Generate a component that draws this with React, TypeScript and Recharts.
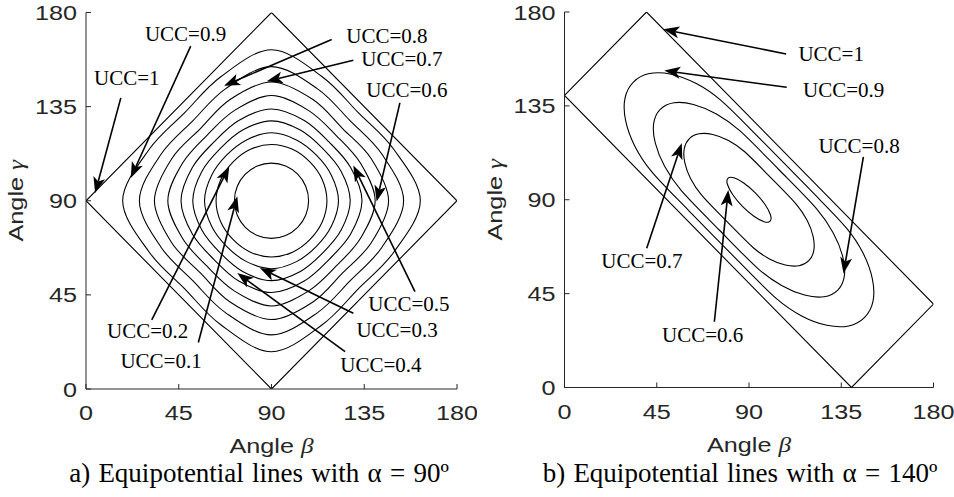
import React from "react";
import { ScatterChart, Scatter, XAxis, YAxis, ReferenceLine, ReferenceDot } from "recharts";

type P = [number, number];

const ticks = [0, 45, 90, 135, 180];

// ---- a) alpha = 90 ----
const edge90: P[] = [[90, 0], [180, 90], [90, 180], [0, 90]];

const ucc01a: P[] = [[108, 90], [106.6, 96.9], [102.7, 102.7], [96.9, 106.6], [90, 108], [83.1, 106.6], [77.3, 102.7], [73.4, 96.9], [72, 90], [73.4, 83.1], [77.3, 77.3], [83.1, 73.4], [90, 72], [96.9, 73.4], [102.7, 77.3], [106.6, 83.1]];
const ucc02a: P[] = [[116.9, 90], [114.6, 100.2], [108.6, 108.6], [100.2, 114.6], [90, 116.9], [79.8, 114.6], [71.4, 108.6], [65.4, 100.2], [63.1, 90], [65.4, 79.8], [71.4, 71.4], [79.8, 65.4], [90, 63.1], [100.2, 65.4], [108.6, 71.4], [114.6, 79.8]];
const ucc03a: P[] = [[122.5, 90], [119.1, 102.1], [111.8, 111.8], [102.1, 119.1], [90, 122.5], [77.9, 119.1], [68.2, 111.8], [60.9, 102.1], [57.5, 90], [60.9, 77.9], [68.2, 68.2], [77.9, 60.9], [90, 57.5], [102.1, 60.9], [111.8, 68.2], [119.1, 77.9]];
const ucc04a: P[] = [[128.2, 90], [123.8, 104], [114.9, 114.9], [104, 123.8], [90, 128.2], [76, 123.8], [65.1, 114.9], [56.2, 104], [51.8, 90], [56.2, 76], [65.1, 65.1], [76, 56.2], [90, 51.8], [104, 56.2], [114.9, 65.1], [123.8, 76]];
const ucc05a: P[] = [[133.9, 90], [128.4, 105.9], [118, 118], [105.9, 128.4], [90, 133.9], [74.1, 128.4], [62, 118], [51.6, 105.9], [46.1, 90], [51.6, 74.1], [62, 62], [74.1, 51.6], [90, 46.1], [105.9, 51.6], [118, 62], [128.4, 74.1]];
const ucc06a: P[] = [[140.3, 90], [133.2, 107.9], [121.3, 121.3], [107.9, 133.2], [90, 140.3], [72.1, 133.2], [58.7, 121.3], [46.8, 107.9], [39.7, 90], [46.8, 72.1], [58.7, 58.7], [72.1, 46.8], [90, 39.7], [107.9, 46.8], [121.3, 58.7], [133.2, 72.1]];
const ucc07a: P[] = [[146.8, 90], [138.4, 110.1], [124.5, 124.5], [110.1, 138.4], [90, 146.8], [69.9, 138.4], [55.5, 124.5], [41.6, 110.1], [33.2, 90], [41.6, 69.9], [55.5, 55.5], [69.9, 41.6], [90, 33.2], [110.1, 41.6], [124.5, 55.5], [138.4, 69.9]];
const ucc08a: P[] = [[154.1, 90], [143.6, 112.2], [128.2, 128.2], [112.2, 143.6], [90, 154.1], [67.8, 143.6], [51.8, 128.2], [36.4, 112.2], [25.9, 90], [36.4, 67.8], [51.8, 51.8], [67.8, 36.4], [90, 25.9], [112.2, 36.4], [128.2, 51.8], [143.6, 67.8]];
const ucc09a: P[] = [[162.2, 90], [149.3, 114.6], [132.1, 132.1], [114.6, 149.3], [90, 162.2], [65.4, 149.3], [47.9, 132.1], [30.7, 114.6], [17.8, 90], [30.7, 65.4], [47.9, 47.9], [65.4, 30.7], [90, 17.8], [114.6, 30.7], [132.1, 47.9], [149.3, 65.4]];

const textA = ["UCC=1", "UCC=0.9", "UCC=0.8", "UCC=0.7", "UCC=0.6", "UCC=0.5", "UCC=0.4", "UCC=0.3", "UCC=0.2", "UCC=0.1"];
const textPosA: P[] = [[19.8, 148.9], [48.3, 169.8], [146, 169], [153.3, 157.8], [155.7, 143.1], [156.7, 40.7], [143.1, 11.5], [150.9, 28.2], [29.9, 27.8], [36.4, 13.4]];
const tailA: P[] = [[16.9, 139.2], [50.8, 163.9], [119.2, 167.1], [129.7, 157.2], [152.3, 136.8], [159.6, 46.6], [125.7, 17.9], [129.7, 36.2], [31.9, 33], [54.5, 22.2]];
const headA: P[] = [[4.4, 93.7], [21.7, 100.9], [67, 145], [87.7, 147.1], [141, 89.7], [129.7, 106.9], [73.4, 55.4], [84.4, 57.8], [69.5, 106.4], [73.4, 92.1]];

// ---- b) alpha = 140 ----
const edge140: P[] = [[0, 140], [40, 180], [180, 40], [140, 0]];

const ucc06b: P[] = [[100.3, 79.7], [100.5, 82.7], [97.9, 87.6], [93.2, 93.2], [87.6, 97.9], [82.7, 100.5], [79.7, 100.3], [79.5, 97.3], [82.1, 92.4], [86.8, 86.8], [92.4, 82.1], [97.3, 79.5]];
const ucc07b: P[] = [[60.8, 119.2], [65.6, 121.6], [72.3, 121.3], [80, 118.4], [87.9, 113], [100.6, 100.6], [113, 87.9], [118.4, 80], [121.3, 72.3], [121.6, 65.6], [119.2, 60.8], [114.4, 58.4], [107.7, 58.7], [100, 61.6], [92.1, 67], [79.4, 79.4], [67, 92.1], [61.6, 100], [58.7, 107.7], [58.4, 114.4]];
const ucc08b: P[] = [[46.7, 133.3], [53.4, 136.5], [62.9, 135.7], [74.1, 131.1], [85.5, 123.1], [104.5, 104.5], [123.1, 85.5], [131.1, 74.1], [135.7, 62.9], [136.5, 53.4], [133.3, 46.7], [126.6, 43.5], [117.1, 44.3], [105.9, 48.9], [94.5, 56.9], [75.5, 75.5], [56.9, 94.5], [48.9, 105.9], [44.3, 117.1], [43.5, 126.6]];
const ucc09b: P[] = [[33.6, 146.4], [41.4, 150.5], [52, 150.2], [64.3, 145.7], [76.6, 137.4], [95.3, 119.3], [119.3, 95.3], [137.4, 76.6], [145.7, 64.3], [150.2, 52], [150.5, 41.4], [146.4, 33.6], [138.6, 29.5], [128, 29.8], [115.7, 34.3], [103.4, 42.6], [84.7, 60.7], [60.7, 84.7], [42.6, 103.4], [34.3, 115.7], [29.8, 128], [29.5, 138.6]];

const textB = ["UCC=1", "UCC=0.9", "UCC=0.8", "UCC=0.7", "UCC=0.6"];
const textPosB: P[] = [[130.1, 160.1], [136.2, 142.6], [143.7, 116], [37.8, 60.6], [67.4, 25.4]];
const tailB: P[] = [[108.1, 159.9], [108.4, 143.9], [145.8, 110.6], [40.1, 66.7], [73.1, 31.5]];
const headB: P[] = [[48.2, 171.7], [48.7, 151.9], [136.1, 54.7], [57.2, 117.1], [79.9, 94.7]];

const AX = "#262626";
const SANS = "'Liberation Sans', Arial, sans-serif";
const SERIF = "'Liberation Serif', 'Times New Roman', serif";
const STRETCH = 1.2; // the axis text in the figure is wider than plain Arial

// closed Catmull-Rom curve, used as a d3 curve factory
function closedSpline(context: any) {
  let pts: number[][] = [];
  return {
    areaStart() {},
    areaEnd() {},
    lineStart() {
      pts = [];
    },
    point(x: number, y: number) {
      pts.push([+x, +y]);
    },
    lineEnd() {
      const n = pts.length;
      if (n < 3) return;
      context.moveTo(pts[0][0], pts[0][1]);
      for (let i = 0; i < n; i++) {
        const p0 = pts[(i + n - 1) % n];
        const p1 = pts[i];
        const p2 = pts[(i + 1) % n];
        const p3 = pts[(i + 2) % n];
        context.bezierCurveTo(
          p1[0] + (p2[0] - p0[0]) / 6,
          p1[1] + (p2[1] - p0[1]) / 6,
          p2[0] - (p3[0] - p1[0]) / 6,
          p2[1] - (p3[1] - p1[1]) / 6,
          p2[0],
          p2[1]
        );
      }
      context.closePath();
    },
  };
}

const toRows = (pts: P[]) => pts.map(([b, g]) => ({ b, g }));
const NoDot = () => null;

const Arrow = (p: any) => {
  const { x1, y1, x2, y2 } = p;
  const dx = x2 - x1;
  const dy = y2 - y1;
  const len = Math.hypot(dx, dy) || 1;
  const ux = dx / len;
  const uy = dy / len;
  const L = 16;
  const W = 6;
  const bx = x2 - ux * L;
  const by = y2 - uy * L;
  const nx = x2 - ux * (L - 4);
  const ny = y2 - uy * (L - 4);
  return (
    <g>
      <line x1={x1} y1={y1} x2={nx} y2={ny} stroke="#000" strokeWidth={1.6} />
      <polygon
        points={`${x2},${y2} ${bx - uy * W},${by + ux * W} ${nx},${ny} ${bx + uy * W},${by - ux * W}`}
        fill="#000"
      />
    </g>
  );
};

// sans text, stretched horizontally
const SText = ({ x, y, anchor, rotate = 0, children }: any) => (
  <text
    transform={`translate(${x} ${y}) rotate(${rotate}) scale(${STRETCH} 1)`}
    textAnchor={anchor}
    fontFamily={SANS}
    fontSize={21}
    fill={AX}
  >
    {children}
  </text>
);

const BottomTick = (p: any) => (
  <g>
    <line x1={p.x} y1={p.y} x2={p.x} y2={p.y - 5} stroke={AX} />
    <SText x={p.x} y={p.y + 31} anchor="middle">
      {p.payload.value}
    </SText>
  </g>
);
const LeftTick = (p: any) => (
  <g>
    <line x1={p.x} y1={p.y} x2={p.x + 5} y2={p.y} stroke={AX} />
    <SText x={p.x - 9} y={p.y + 7.5} anchor="end">
      {p.payload.value}
    </SText>
  </g>
);
const TopTick = (p: any) => <line x1={p.x} y1={p.y} x2={p.x} y2={p.y + 5} stroke={AX} />;
const RightTick = (p: any) => <line x1={p.x} y1={p.y} x2={p.x - 5} y2={p.y} stroke={AX} />;

type PanelProps = {
  left: number;
  margin: { top: number; right: number; bottom: number; left: number };
  edge: P[];
  contours: P[][];
  texts: string[];
  textPos: P[];
  tails: P[];
  heads: P[];
  caption: string;
  captionCenter: number;
};

function Panel({ left, margin, edge, contours, texts, textPos, tails, heads, caption, captionCenter }: PanelProps) {
  return (
    <div style={{ position: "absolute", left, top: 0, width: 477, height: 497 }}>
      <ScatterChart width={477} height={497} margin={margin}>
        <XAxis
          xAxisId={0}
          type="number"
          dataKey="b"
          domain={[0, 180]}
          ticks={ticks}
          height={30}
          stroke={AX}
          tickLine={false}
          tickSize={0}
          tickMargin={0}
          tick={<BottomTick />}
          allowDataOverflow
          label={(lp: any) => {
            const vb = lp.viewBox;
            return (
              <SText x={vb.x + vb.width / 2} y={vb.y + 64} anchor="middle">
                Angle{" "}
                <tspan fontFamily={SERIF} fontStyle="italic">
                  β
                </tspan>
              </SText>
            );
          }}
        />
        <XAxis
          xAxisId="top"
          orientation="top"
          type="number"
          dataKey="b"
          domain={[0, 180]}
          ticks={ticks}
          height={0}
          stroke={AX}
          tickLine={false}
          tickSize={0}
          tickMargin={0}
          tick={<TopTick />}
          allowDataOverflow
        />
        <YAxis
          yAxisId={0}
          type="number"
          dataKey="g"
          domain={[0, 180]}
          ticks={ticks}
          width={60}
          stroke={AX}
          tickLine={false}
          tickSize={0}
          tickMargin={0}
          tick={<LeftTick />}
          allowDataOverflow
          label={(lp: any) => {
            const vb = lp.viewBox;
            return (
              <SText x={vb.x + vb.width - 63} y={vb.y + vb.height / 2} anchor="middle" rotate={-90}>
                Angle{" "}
                <tspan fontFamily={SERIF} fontStyle="italic">
                  γ
                </tspan>
              </SText>
            );
          }}
        />
        <YAxis
          yAxisId="right"
          orientation="right"
          type="number"
          dataKey="g"
          domain={[0, 180]}
          ticks={ticks}
          width={0}
          stroke={AX}
          tickLine={false}
          tickSize={0}
          tickMargin={0}
          tick={<RightTick />}
          allowDataOverflow
        />
        <Scatter
          data={toRows(edge)}
          line={{ stroke: "#000", strokeWidth: 1.1 }}
          lineType="joint"
          lineJointType="linearClosed"
          shape={NoDot}
          isAnimationActive={false}
        />
        {contours.map((c, i) => (
          <Scatter
            key={i}
            data={toRows(c)}
            line={{ stroke: "#000", strokeWidth: 1.1 }}
            lineType="joint"
            lineJointType={closedSpline as any}
            shape={NoDot}
            isAnimationActive={false}
          />
        ))}
        {tails.map((t, i) => (
          <ReferenceLine
            key={`a${i}`}
            segment={[
              { x: t[0], y: t[1] },
              { x: heads[i][0], y: heads[i][1] },
            ]}
            shape={Arrow}
            ifOverflow="visible"
          />
        ))}
        {texts.map((t, i) => (
          <ReferenceDot
            key={`t${i}`}
            x={textPos[i][0]}
            y={textPos[i][1]}
            r={0}
            stroke="none"
            fill="none"
            ifOverflow="visible"
            label={(lp: any) => {
              const vb = lp.viewBox;
              return (
                <text
                  x={vb.x + vb.width / 2}
                  y={vb.y + vb.height / 2 + 7}
                  textAnchor="middle"
                  fontFamily={SERIF}
                  fontSize={21}
                  fill="#000"
                >
                  {t}
                </text>
              );
            }}
          />
        ))}
      </ScatterChart>
      <div
        style={{
          position: "absolute",
          left: captionCenter - 250,
          width: 500,
          top: 458,
          textAlign: "center",
          fontFamily: SERIF,
          fontSize: 27,
          wordSpacing: 1.5,
          lineHeight: "30px",
          whiteSpace: "nowrap",
          color: "#000",
        }}
      >
        {caption}
      </div>
    </div>
  );
}

export default function App() {
  return (
    <div style={{ position: "absolute", left: 0, top: 0, width: 954, height: 497, background: "#fff", overflow: "hidden" }}>
      <Panel
        left={0}
        margin={{ top: 12.5, right: 20, bottom: 78, left: 26 }}
        edge={edge90}
        contours={[ucc01a, ucc02a, ucc03a, ucc04a, ucc05a, ucc06a, ucc07a, ucc08a, ucc09a]}
        texts={textA}
        textPos={textPosA}
        tails={tailA}
        heads={headA}
        caption="a) Equipotential lines with α = 90º"
        captionCenter={259}
      />
      <Panel
        left={477}
        margin={{ top: 12, right: 20.5, bottom: 79.5, left: 27.5 }}
        edge={edge140}
        contours={[ucc06b, ucc07b, ucc08b, ucc09b]}
        texts={textB}
        textPos={textPosB}
        tails={tailB}
        heads={headB}
        caption="b) Equipotential lines with α = 140º"
        captionCenter={263}
      />
    </div>
  );
}
